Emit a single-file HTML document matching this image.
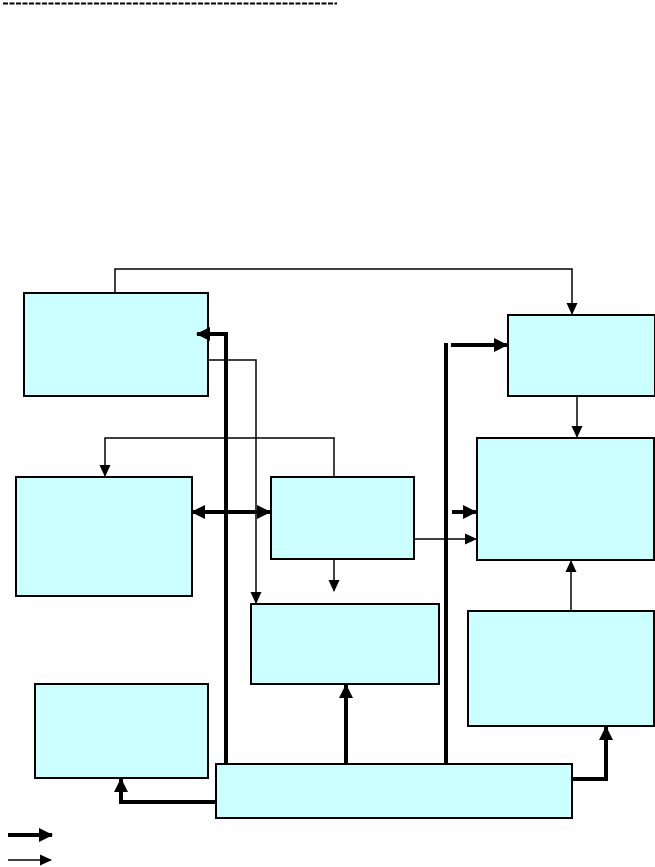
<!DOCTYPE html>
<html><head><meta charset="utf-8"><style>html,body{margin:0;padding:0;background:#fff}svg{display:block}</style></head><body>
<svg width="655" height="867" viewBox="0 0 655 867" xmlns="http://www.w3.org/2000/svg">
<defs>
<marker id="a" markerWidth="12" markerHeight="12" refX="11" refY="5.5" orient="auto" markerUnits="userSpaceOnUse"><path d="M0,0 L12,5.5 L0,11 z" fill="#000"/></marker>
<marker id="b" markerWidth="14" markerHeight="14" refX="13" refY="7" orient="auto" markerUnits="userSpaceOnUse"><path d="M0,0 L14,7 L0,14 z" fill="#000"/></marker>
</defs>
<line x1="3" y1="3.5" x2="337" y2="3.5" stroke="#000" stroke-width="2" stroke-dasharray="5,1.5"/>
<g fill="#ccffff" stroke="#000" stroke-width="2">
<rect x="24" y="293" width="184" height="103"/>
<rect x="508" y="315" width="147" height="81"/>
<rect x="16" y="477" width="176" height="119"/>
<rect x="271" y="477" width="143" height="82"/>
<rect x="477" y="438" width="177" height="122"/>
<rect x="251" y="604" width="188" height="80"/>
<rect x="468" y="611" width="186" height="115"/>
<rect x="35" y="684" width="173" height="94"/>
<rect x="216" y="764" width="356" height="54"/>
</g>
<g fill="none" stroke="#000" stroke-width="1.5">
<polyline points="115,293 115,269 572,269 572,314" marker-end="url(#a)"/>
<polyline points="208,360 256,360 256,603" marker-end="url(#a)"/>
<polyline points="334,477 334,438 105,438 105,476" marker-end="url(#a)"/>
<line x1="334" y1="559" x2="334" y2="591" marker-end="url(#a)"/>
<line x1="413" y1="539" x2="476" y2="539" marker-end="url(#a)"/>
<line x1="577" y1="396" x2="577" y2="437" marker-end="url(#a)"/>
<line x1="571" y1="611" x2="571" y2="561" marker-end="url(#a)"/>
<line x1="8" y1="860" x2="51" y2="860" marker-end="url(#a)"/>
</g>
<g fill="none" stroke="#000" stroke-width="4">
<line x1="226" y1="332" x2="226" y2="764"/>
<polyline points="228,334 197,334" marker-end="url(#b)"/>
<line x1="446" y1="343" x2="446" y2="764"/>
<line x1="451" y1="345" x2="507" y2="345" marker-end="url(#b)"/>
<line x1="230" y1="512" x2="192" y2="512" marker-end="url(#b)"/>
<line x1="230" y1="512" x2="270" y2="512" marker-end="url(#b)"/>
<line x1="452" y1="512" x2="476" y2="512" marker-end="url(#b)"/>
<line x1="346" y1="764" x2="346" y2="685" marker-end="url(#b)"/>
<polyline points="572,779 606,779 606,727" marker-end="url(#b)"/>
<polyline points="216,802 121,802 121,779" marker-end="url(#b)"/>
<line x1="8" y1="835" x2="52" y2="835" marker-end="url(#b)"/>
</g>
</svg>
</body></html>
